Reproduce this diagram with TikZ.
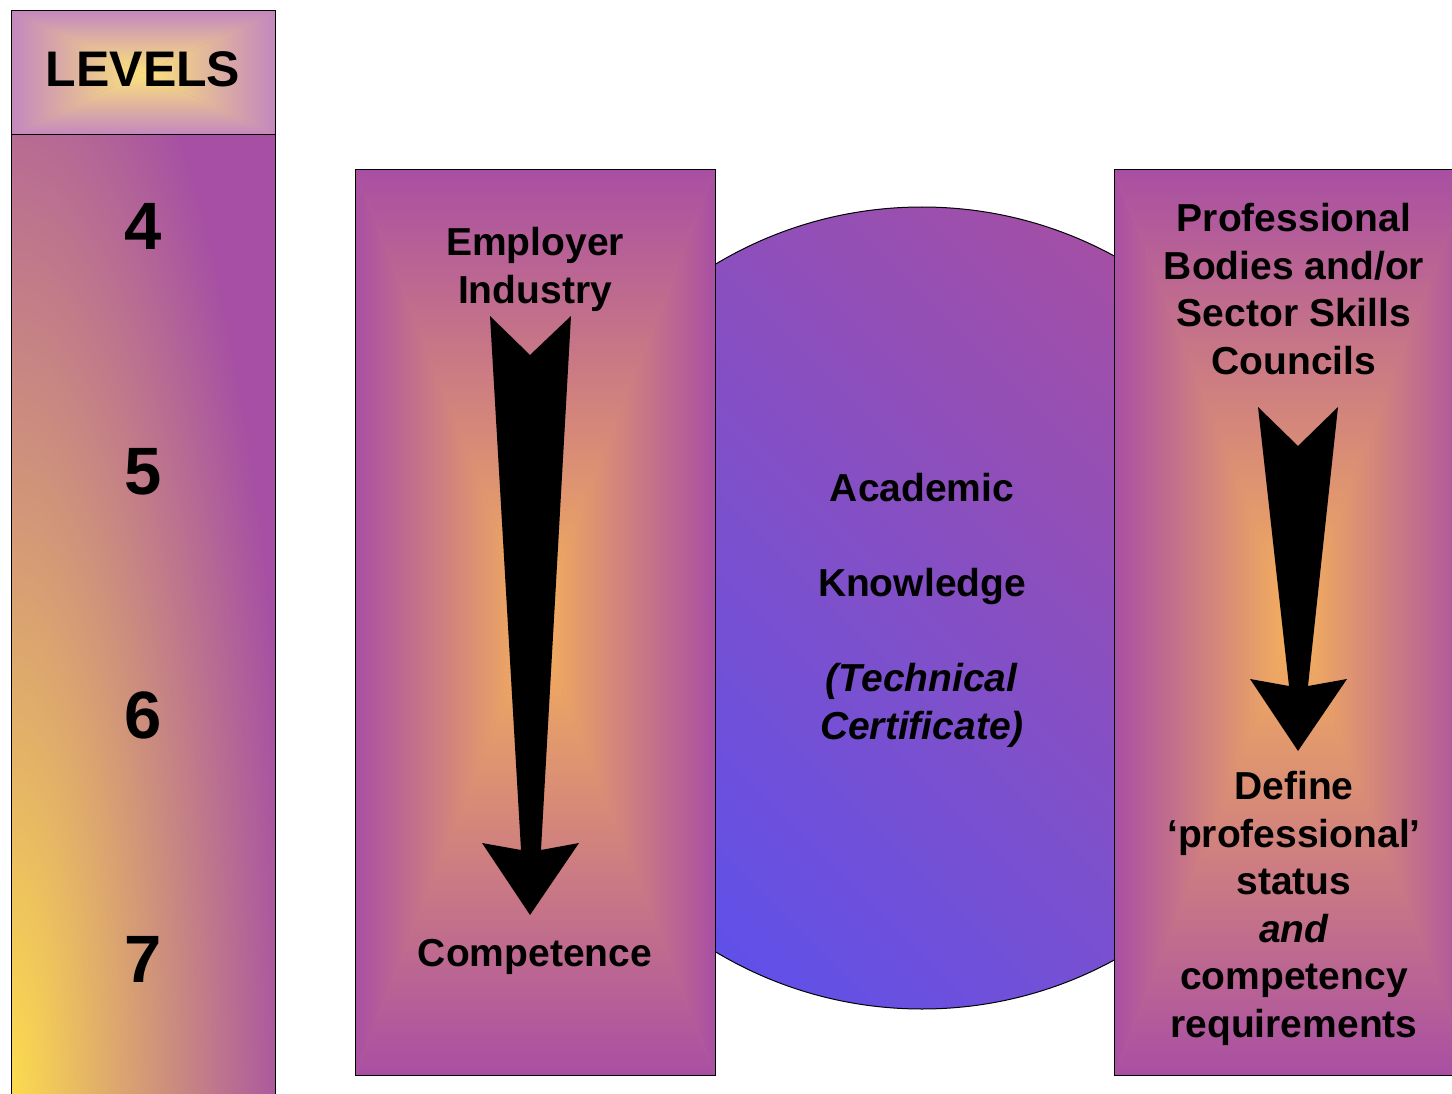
\documentclass[tikz,border=0pt]{standalone}
\usepackage{fontspec}
\setmainfont{Liberation Sans}
\usetikzlibrary{calc}

\definecolor{hdrin}{HTML}{FCE47C}
\definecolor{hdrout}{HTML}{C487BE}
\definecolor{lvyellow}{HTML}{FCDB4E}
\definecolor{lvpurple}{HTML}{A64FA4}
\definecolor{boxin}{HTML}{F6B25A}
\definecolor{boxout}{HTML}{A94FA3}
\definecolor{discblue}{HTML}{5F50EA}
\definecolor{discpurple}{HTML}{A54FA4}

\pgfdeclareverticalshading{hdrramp}{100bp}{color(0bp)=(hdrin); color(25bp)=(hdrin); color(75bp)=(hdrout); color(100bp)=(hdrout)}
\pgfdeclareverticalshading{boxramp}{100bp}{color(0bp)=(boxin); color(25bp)=(boxin); color(75bp)=(boxout); color(100bp)=(boxout)}
\pgfdeclareverticalshading{discramp}{100bp}{color(0bp)=(discblue); color(25bp)=(discblue); color(75bp)=(discpurple); color(100bp)=(discpurple)}

% gradient from the centre out to the four sides: x1,y1,x2,y2,shading
\newcommand{\rectshade}[5]{%
  \coordinate (rc) at ({(#1+#3)/2},{(#2+#4)/2});
  \fill[boxout!50!boxin] (#1,#2) rectangle (#3,#4);
  \shade[shading=#5] (#1,#2) -- (#3,#2) -- (rc) -- cycle;
  \shade[shading=#5, shading angle=180] (#1,#4) -- (#3,#4) -- (rc) -- cycle;
  \shade[shading=#5, shading angle=90] (#1,#2) -- (#1,#4) -- (rc) -- cycle;
  \shade[shading=#5, shading angle=270] (#3,#2) -- (#3,#4) -- (rc) -- cycle;
}

\begin{document}
\begin{tikzpicture}[%
x=1pt, y=-1pt,
lbl/.style={font=\bfseries\fontsize{39}{47.5}\selectfont, align=center, anchor=base, inner sep=0pt},
num/.style={font=\bfseries\fontsize{67}{80}\selectfont, anchor=base, inner sep=0pt},
frame/.style={draw=black, line width=1pt},
]
\clip (0,0) rectangle (1452,1094);
%% disc;
\shade[shading=discramp, shading angle=-45] (922,608) circle [radius=401pt];
\draw[frame] (922,608) circle [radius=401pt];
%% levels column;
\begin{scope}
\clip (11,135) rectangle (275,1110);
\fill[lvpurple] (11,135) rectangle (275,1110);
\shade[inner color=lvyellow, outer color=lvpurple] (11,1094) ellipse [x radius=285pt, y radius=1200pt];
\end{scope}
\draw[frame] (11,135) rectangle (275,1110);
%% levels header;
\rectshade{11}{11}{275}{135}{hdrramp}
\draw[frame] (11,11) rectangle (275,135);
%% employer box;
\rectshade{355}{170}{715}{1075}{boxramp}
\draw[frame] (355,170) rectangle (715,1075);
%% professional box;
\rectshade{1114}{170}{1474}{1075}{boxramp}
\draw[frame] (1114,170) rectangle (1474,1075);
%% arrow;
\fill[black] (490,316) -- (530,355) -- (571,316) -- (541,850) -- (579,843) -- (530,915) -- (482,843) -- (521,850) -- cycle;
%% arrow;
\fill[black] (1258,407) -- (1298,446) -- (1338,407) -- (1308,686) -- (1347,679) -- (1298,751) -- (1250,679) -- (1289,686) -- cycle;
%% labels (a node with several lines sits on its last baseline);
\node[num, font=\bfseries\fontsize{50}{60}\selectfont] (levels) at (143,87) {LEVELS};
\node[num] (lvfour) at (143,250) {4};
\node[num] (lvfive) at (143,494) {5};
\node[num] (lvsix) at (143,738) {6};
\node[num] (lvseven) at (143,982) {7};
\node[lbl] (employer) at (535,303) {Employer\\Industry};
\node[lbl] (competence) at (535,966) {Competence};
\node[lbl] (academic) at (922,739) {Academic\\[47.5pt]Knowledge\\[47.5pt]\textit{(Technical}\\\textit{Certificate)}};
\node[lbl] (bodies) at (1294,374) {Professional\\Bodies and/or\\Sector Skills\\Councils};
\node[lbl] (define) at (1294,1037) {Define\\‘professional’\\status\\\textit{and}\\competency\\requirements};
\end{tikzpicture}
\end{document}
